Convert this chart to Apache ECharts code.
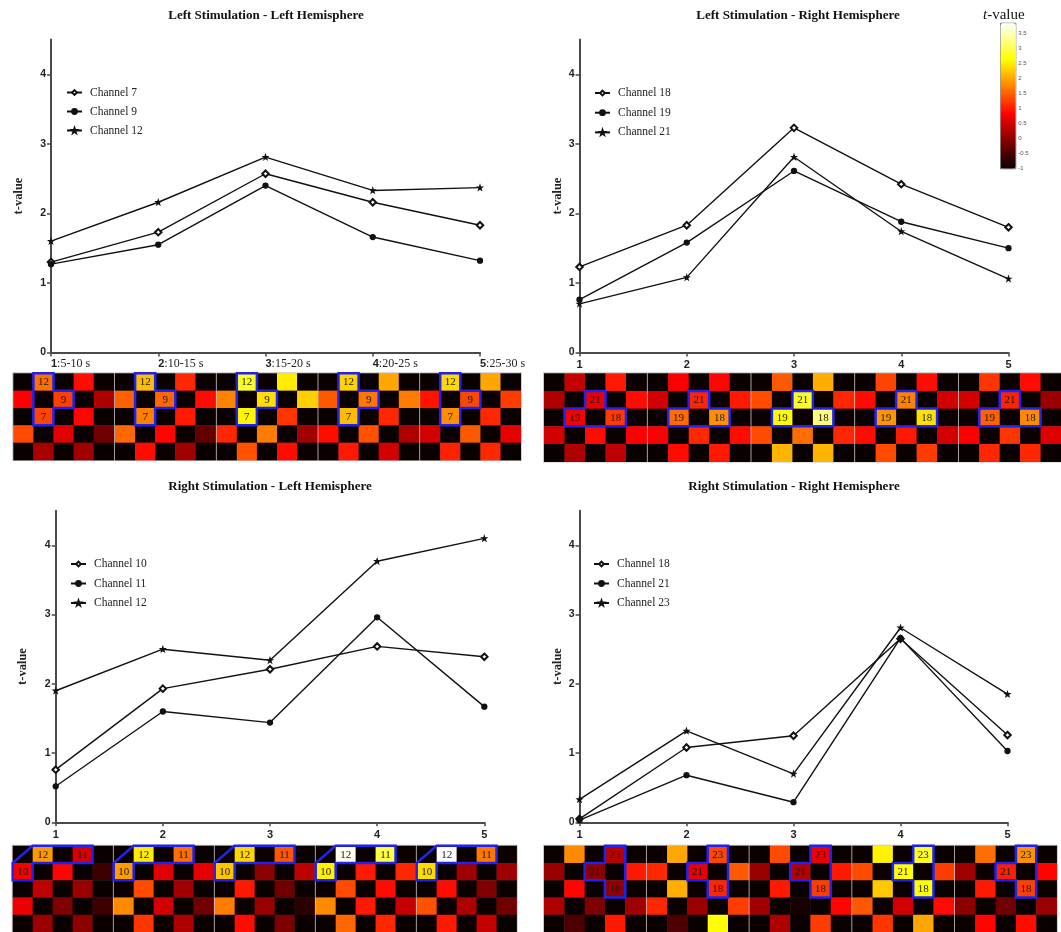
<!DOCTYPE html>
<html><head><meta charset="utf-8">
<script src="https://cdn.jsdelivr.net/npm/echarts@6/dist/echarts.min.js"></script>
<style>html,body{margin:0;padding:0;background:#fff}#c{width:1061px;height:932px}</style>
</head><body><div id="c"></div>
<script>
// ---------- data ----------
const timePoints = [1, 2, 3, 4, 5];
const xRangeLabels = [':5-10 s', ':10-15 s', ':15-20 s', ':20-25 s', ':25-30 s'];
const yTicks = [0, 1, 2, 3, 4];
const colorbarTicks = [-1, -0.5, 0, 0.5, 1, 1.5, 2, 2.5, 3, 3.5];
const titles = ['Left Stimulation - Left Hemisphere', 'Left Stimulation - Right Hemisphere',
  'Right Stimulation - Left Hemisphere', 'Right Stimulation - Right Hemisphere'];

// line values (t-value per time window)
const llCh7  = [1.30, 1.73, 2.57, 2.16, 1.83];
const llCh9  = [1.27, 1.55, 2.40, 1.66, 1.32];
const llCh12 = [1.60, 2.16, 2.81, 2.33, 2.37];
const lrCh18 = [1.23, 1.83, 3.23, 2.42, 1.80];
const lrCh19 = [0.76, 1.58, 2.61, 1.88, 1.50];
const lrCh21 = [0.70, 1.08, 2.81, 1.74, 1.06];
const rlCh10 = [0.76, 1.93, 2.21, 2.54, 2.39];
const rlCh11 = [0.52, 1.60, 1.44, 2.96, 1.67];
const rlCh12 = [1.90, 2.50, 2.34, 3.77, 4.10];
const rrCh18 = [0.05, 1.08, 1.25, 2.65, 1.26];
const rrCh21 = [0.03, 0.68, 0.29, 2.66, 1.03];
const rrCh23 = [0.33, 1.32, 0.70, 2.81, 1.85];

// heat maps: 5 panels x 5 rows x 5 cols (K = no channel, lowest colour)
const K = -1;
const heatLL = [
  [[K,1.60,K,0.90,K],[0.80,K,1.27,K,0.25],[K,1.30,K,0.85,K],[1.35,K,0.60,K,-0.20],[K,0.20,K,0.15,K]],
  [[K,2.16,K,1.10,K],[1.50,K,1.55,K,0.90],[K,1.73,K,1.00,K],[1.55,K,0.85,K,-0.30],[K,0.90,K,0.15,K]],
  [[K,2.81,K,2.50,K],[1.75,K,2.40,K,2.30],[K,2.57,K,1.20,K],[1.10,K,1.70,K,0.15],[K,1.40,K,0.90,K]],
  [[K,2.33,K,2.00,K],[1.45,K,1.66,K,1.70],[K,2.16,K,1.10,K],[0.90,K,1.40,K,0.25],[K,1.00,K,0.50,K]],
  [[K,2.37,K,2.00,K],[0.95,K,1.32,K,1.25],[K,1.83,K,1.10,K],[0.50,K,1.45,K,0.65],[K,1.05,K,1.10,K]]
];
const heatLR = [
  [[K,0.40,K,1.00,K],[0.25,K,0.70,K,0.90],[K,0.76,K,1.23,K],[0.50,K,0.90,K,0.80],[K,0.25,K,0.35,K]],
  [[K,0.80,K,0.85,K],[0.50,K,1.08,K,1.00],[K,1.58,K,1.83,K],[0.80,K,1.10,K,0.90],[K,0.90,K,1.00,K]],
  [[K,1.45,K,2.05,K],[1.35,K,2.81,K,1.10],[K,2.61,K,3.23,K],[1.35,K,1.60,K,1.10],[K,2.10,K,2.10,K]],
  [[K,1.30,K,0.90,K],[0.90,K,1.74,K,0.50],[K,1.88,K,2.42,K],[0.90,K,1.00,K,0.50],[K,1.35,K,1.25,K]],
  [[K,1.20,K,0.90,K],[0.50,K,1.06,K,0.10],[K,1.50,K,1.80,K],[0.80,K,1.20,K,0.60],[K,1.10,K,1.10,K]]
];
const heatRL = [
  [[K,1.90,K,0.52,K],[0.76,K,0.85,K,-0.60],[K,0.35,K,0.10,K],[0.70,K,-0.10,K,-0.60],[K,0.10,K,0.00,K]],
  [[K,2.50,K,1.60,K],[1.93,K,0.60,K,0.65],[K,1.35,K,0.15,K],[1.80,K,0.50,K,-0.20],[K,1.20,K,0.25,K]],
  [[K,2.34,K,1.44,K],[2.21,K,0.00,K,0.35],[K,1.00,K,-0.20,K],[1.70,K,0.10,K,-0.75],[K,0.90,K,-0.10,K]],
  [[K,3.77,K,2.96,K],[2.54,K,1.00,K,1.10],[K,1.35,K,0.90,K],[1.80,K,1.00,K,0.40],[K,1.55,K,1.10,K]],
  [[K,4.10,K,1.67,K],[2.39,K,0.15,K,0.15],[K,0.90,K,-0.10,K],[1.40,K,0.25,K,-0.20],[K,1.00,K,0.40,K]]
];
const heatRR = [
  [[K,1.80,K,0.33,K],[0.10,K,0.03,K,1.00],[K,0.85,K,0.05,K],[0.25,K,-0.10,K,0.15],[K,-0.45,K,1.00,K]],
  [[K,2.00,K,1.32,K],[1.10,K,0.68,K,1.45],[K,2.05,K,1.08,K],[1.10,K,0.10,K,1.25],[K,-0.45,K,2.65,K]],
  [[K,1.35,K,0.70,K],[0.10,K,0.29,K,1.00],[K,1.00,K,1.25,K],[0.15,K,-0.90,K,0.85],[K,0.25,K,1.25,K]],
  [[K,2.55,K,2.81,K],[1.35,K,2.66,K,1.25],[K,2.25,K,2.65,K],[1.45,K,0.50,K,0.90],[K,1.20,K,2.00,K]],
  [[K,1.60,K,1.85,K],[0.15,K,1.03,K,0.85],[K,1.00,K,1.26,K],[0.00,K,-0.20,K,0.10],[K,0.85,K,0.90,K]]
];
// channel labels [col,row,text]
const labelsLL = [[1,0,'12'],[2,1,'9'],[1,2,'7']];
const labelsLR = [[2,1,'21'],[1,2,'19'],[3,2,'18']];
const labelsRL = [[1,0,'12'],[3,0,'11'],[0,1,'10']];
const labelsRR = [[3,0,'23'],[2,1,'21'],[3,2,'18']];
// region outlines in cell-edge units
const outlineLL = [[1,0],[2,0],[2,1],[3,1],[3,2],[2,2],[2,3],[1,3]];
const outlineLR = [[2,1],[3,1],[3,2],[4,2],[4,3],[1,3],[1,2],[2,2]];
const outlineRL = [[0,1],[1,0],[4,0],[4,1],[1,1],[1,2],[0,2]];
const outlineRR = [[3,0],[4,0],[4,3],[3,3],[3,2],[2,2],[2,1],[3,1]];

// ---------- layout / style ----------
const FONT_SERIF = 'Liberation Serif', FONT_SANS = 'Liberation Sans';
const hotColors = ['#0b0000','#550000','#aa0000','#ff0000','#ff5500','#ffaa00','#ffff00','#ffff80','#ffffff'];
const starPath = 'path://M0,-10 L2.35,-3.24 L9.51,-3.09 L3.8,1.24 L5.88,8.09 L0,4 L-5.88,8.09 L-3.8,1.24 L-9.51,-3.09 L-2.35,-3.24Z';
const symbolStyles = {
  diamond: {symbol: 'emptyDiamond', symbolSize: 6.5},
  dot: {symbol: 'circle', symbolSize: 5},
  star: {symbol: starPath, symbolSize: 4.5}
};
const lineCharts = [
  {key:'LL', grid:{left:51,top:39.5,width:429,height:313}, legend:{left:61,top:81,gap:6},
   nameGap:26, labelMargin:5, rangeLabels:true, title:{x:266,y:16},
   series:[['Channel 7', llCh7, 'diamond'], ['Channel 9', llCh9, 'dot'], ['Channel 12', llCh12, 'star']]},
  {key:'LR', grid:{left:579.5,top:39.5,width:429,height:313}, legend:{left:589,top:81.5,gap:6.7},
   nameGap:13, labelMargin:7, rangeLabels:false, title:{x:798,y:16},
   series:[['Channel 18', lrCh18, 'diamond'], ['Channel 19', lrCh19, 'dot'], ['Channel 21', lrCh21, 'star']]},
  {key:'RL', grid:{left:55.7,top:510.7,width:428.6,height:311.6}, legend:{left:65,top:552.5,gap:6.5},
   nameGap:26, labelMargin:7, rangeLabels:false, title:{x:270,y:487},
   series:[['Channel 10', rlCh10, 'diamond'], ['Channel 11', rlCh11, 'dot'], ['Channel 12', rlCh12, 'star']]},
  {key:'RR', grid:{left:579.5,top:510.7,width:428,height:311.6}, legend:{left:588,top:552.5,gap:6.5},
   nameGap:13, labelMargin:7, rangeLabels:false, title:{x:794,y:487},
   series:[['Channel 18', rrCh18, 'diamond'], ['Channel 21', rrCh21, 'dot'], ['Channel 23', rrCh23, 'star']]}
];
const strips = [
  {heat:heatLL, labels:labelsLL, outline:outlineLL, left:13.3, step:101.7, top:373.3, height:86.7},
  {heat:heatLR, labels:labelsLR, outline:outlineLR, left:544, step:103.7, top:373.3, height:88.3},
  {heat:heatRL, labels:labelsRL, outline:outlineRL, left:12.7, step:101, top:845.7, height:88.75},
  {heat:heatRR, labels:labelsRR, outline:outlineRR, left:544, step:102.75, top:845.7, height:88.75}
];

const grid = [], xAxis = [], yAxis = [], series = [], legend = [], graphic = [];
const axisColor = '#4a4a4a';

lineCharts.forEach((lc, gi) => {
  grid.push(Object.assign({}, lc.grid));
  xAxis.push({
    type: 'value', gridIndex: gi, min: 1, max: 5, interval: 1,
    axisLine: {lineStyle: {color: axisColor, width: 2}},
    axisTick: {length: 4, lineStyle: {color: axisColor, width: 1.5}},
    splitLine: {show: false},
    axisLabel: lc.rangeLabels ? {
      margin: lc.labelMargin, align: 'left',
      formatter: v => '{b|' + v + '}{n|' + xRangeLabels[v - 1] + '}',
      rich: {b: {fontFamily: FONT_SANS, fontWeight: 'bold', fontSize: 11, color: '#222'},
             n: {fontFamily: FONT_SERIF, fontSize: 12, color: '#222'}}
    } : {margin: lc.labelMargin, fontFamily: FONT_SANS, fontWeight: 'bold', fontSize: 11, color: '#222'}
  });
  yAxis.push({
    type: 'value', gridIndex: gi, min: 0, max: 4.5,
    axisLine: {show: true, lineStyle: {color: axisColor, width: 2}},
    axisTick: {show: true, length: 4, customValues: yTicks, lineStyle: {color: axisColor, width: 1.5}},
    axisLabel: {customValues: yTicks, fontFamily: FONT_SANS, fontWeight: 'bold', fontSize: 10.5, color: '#222', margin: 5},
    splitLine: {show: false},
    name: 't-value', nameLocation: 'middle', nameGap: lc.nameGap,
    nameTextStyle: {fontFamily: FONT_SERIF, fontWeight: 'bold', fontSize: 12.5, color: '#222'}
  });
  const names = [];
  lc.series.forEach(([name, values, style]) => {
    const id = lc.key + '|' + name;
    names.push(id);
    series.push(Object.assign({
      type: 'line', name: id, xAxisIndex: gi, yAxisIndex: gi,
      data: values.map((v, i) => [timePoints[i], v]),
      lineStyle: {color: '#111', width: 1.4},
      itemStyle: {color: '#111', borderColor: '#111', borderWidth: 1.3},
      emphasis: {disabled: true}, z: 3
    }, symbolStyles[style]));
  });
  legend.push({
    data: names, orient: 'vertical', left: lc.legend.left, top: lc.legend.top,
    itemWidth: 15, itemHeight: 6, itemGap: lc.legend.gap,
    formatter: n => n.split('|')[1], selectedMode: false,
    textStyle: {fontFamily: FONT_SERIF, fontSize: 11.5, color: '#222', lineHeight: 13, padding: [0, 0, 0, 3]}
  });
  graphic.push({type: 'text', x: lc.title.x, y: lc.title.y, silent: true,
    style: {text: titles[gi], align: 'center', verticalAlign: 'middle',
      font: 'bold 13px "' + FONT_SERIF + '"', fill: '#111'}});
});

const cellSeriesIdx = [];
strips.forEach((st, si) => {
  graphic.push({type: 'rect', z: -10, silent: true,
    shape: {x: st.left - 1, y: st.top - 1, width: st.step * 5 + 1, height: st.height + 2},
    style: {fill: '#c8c8c8'}});
  st.heat.forEach((panel, pi) => {
    const gi = grid.length;
    grid.push({left: st.left + pi * st.step, top: st.top, width: st.step - 1.2, height: st.height});
    xAxis.push({type: 'value', gridIndex: gi, min: 0, max: 5, show: false});
    yAxis.push({type: 'value', gridIndex: gi, min: 0, max: 5, inverse: true, show: false});
    const cells = [];
    panel.forEach((row, r) => row.forEach((v, c) => cells.push([c, r, v])));
    const labels = st.labels;
    cellSeriesIdx.push(series.length);
    series.push({
      type: 'custom', xAxisIndex: gi, yAxisIndex: gi, data: cells, encode: {x: 0, y: 1},
      silent: true, z: 2,
      renderItem: (params, api) => {
        const c = api.value(0), r = api.value(1);
        const a = api.coord([c, r]), b = api.coord([c + 1, r + 1]);
        const x = Math.min(a[0], b[0]), y = Math.min(a[1], b[1]);
        const w = Math.abs(b[0] - a[0]), h = Math.abs(b[1] - a[1]);
        const children = [{type: 'rect', shape: {x: x, y: y, width: w + 0.4, height: h + 0.4},
          style: {fill: api.visual('color')}}];
        const lab = labels.find(l => l[0] === c && l[1] === r);
        if (lab) children.push({type: 'text', style: {text: lab[2], x: x + w / 2, y: y + h / 2 + 0.5,
          align: 'center', verticalAlign: 'middle', fill: '#1a1a1a', font: '11px "' + FONT_SERIF + '"'}});
        return {type: 'group', children: children};
      }
    });
    const outline = st.outline;
    series.push({
      type: 'custom', xAxisIndex: gi, yAxisIndex: gi, data: [[0, 0]], encode: {x: 0, y: 1},
      silent: true, z: 4,
      renderItem: (params, api) => ({
        type: 'polygon', shape: {points: outline.map(p => api.coord(p))},
        style: {fill: 'none', stroke: '#2222ee', lineWidth: 2.5, lineJoin: 'miter'}
      })
    });
  });
});

// colour-bar axis
const cbGrid = grid.length;
grid.push({left: 1000, top: 22.7, width: 15.3, height: 145.6});
xAxis.push({type: 'value', gridIndex: cbGrid, show: false, min: 0, max: 1});
yAxis.push({type: 'value', gridIndex: cbGrid, min: -1, max: 3.85, position: 'right',
  axisLine: {show: false}, splitLine: {show: false},
  axisTick: {show: true, length: 2, customValues: colorbarTicks, lineStyle: {color: '#666', width: 0.8}},
  axisLabel: {customValues: colorbarTicks, fontFamily: FONT_SANS, fontSize: 6, color: '#555', margin: 3}});

graphic.push({type: 'text', x: 983, y: 15, silent: true,
  style: {text: '{i|t}-value', verticalAlign: 'middle', font: '15px "' + FONT_SERIF + '"', fill: '#111',
    rich: {i: {fontStyle: 'italic', fontFamily: FONT_SERIF, fontSize: 15, fill: '#111'}}}});

const option = {
  animation: false,
  backgroundColor: '#fff',
  grid: grid, xAxis: xAxis, yAxis: yAxis, legend: legend, series: series, graphic: graphic,
  visualMap: {
    type: 'continuous', min: -1, max: 3.85, dimension: 2, seriesIndex: cellSeriesIdx,
    inRange: {color: hotColors}, outOfRange: {color: '#ffffff'},
    left: 1000, top: 22.7, itemWidth: 15.3, itemHeight: 145.6,
    calculable: false, hoverLink: false, padding: 0, borderColor: '#777', borderWidth: 1
  }
};
const chart = echarts.init(document.getElementById('c'), null, {renderer: 'canvas'});
chart.setOption(option);
</script></body></html>
